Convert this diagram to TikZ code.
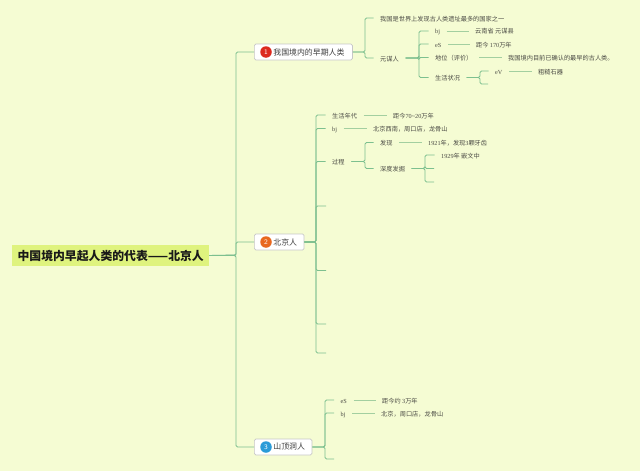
\documentclass[tikz,border=0pt]{standalone}
\usepackage{fontspec}
\setmainfont{Liberation Serif}
\newfontfamily\cjk{Noto Sans CJK SC}
\definecolor{bgc}{HTML}{F5FCD3}
\definecolor{rootc}{HTML}{DFF37E}
\definecolor{lnA}{HTML}{55A57C}
\definecolor{lnB}{HTML}{7DC08F}
\definecolor{lnC}{HTML}{A3CFA0}
\definecolor{txt}{HTML}{4A4A44}
\definecolor{redb}{HTML}{DC2A1E}
\definecolor{orab}{HTML}{E8681F}
\definecolor{blub}{HTML}{2A9BD8}
\tikzset{
  x=1pt,y=-1pt,
  tx/.style={anchor=west,inner xsep=6.5pt,inner ysep=0pt,text=txt,text height=6pt,text depth=0pt,font=\fontsize{6.2pt}{7pt}\selectfont\cjk},
  lat/.style={anchor=west,inner xsep=6.5pt,inner ysep=0pt,text=txt,text height=6pt,text depth=0pt,font=\fontsize{6.2pt}{7pt}\selectfont},
  topic/.style={draw=black!22,fill=white,rounded corners=1.5pt,line width=.7pt,minimum height=16pt,inner ysep=0pt,inner xsep=0pt,anchor=west,text=black!75,font=\fontsize{7.9pt}{9pt}\selectfont\cjk},
  badge/.style={circle,inner sep=0pt,minimum size=11.5pt,text=white,font=\fontsize{7pt}{8pt}\selectfont\sffamily},
  link/.style={lnB,line width=.8pt,rounded corners=1.5pt},
  thin link/.style={lnC,line width=.8pt},
}
\newcommand{\lnk}[3]{\draw[link] (#1.east) -- (#1.east -| #2) |- (#3.west);}
\newcommand{\tie}[2]{\draw[thin link] (#1.east) -- (#2.west);}
\begin{document}
\begin{tikzpicture}
\useasboundingbox (0,0) rectangle (640,471);
\fill[bgc] (0,0) rectangle (640,471);
% trunks
\coordinate (t0) at (236,255);
\coordinate (t1) at (365,52);
\coordinate (t11) at (419,57);
\coordinate (t114) at (480,77);
\coordinate (t2) at (316,242);
\coordinate (t23) at (365,161);
\coordinate (t232) at (425,168);
\coordinate (t3) at (325,446);
% root and main topics
\node[fill=rootc,minimum width=197pt,minimum height=21pt,inner sep=0pt,anchor=west,text height=11pt,text depth=2pt,font=\fontsize{11.85pt}{13pt}\selectfont\cjk\bfseries,text=black!90] (root) at (12,255.5) {中国境内早起人类的代表——北京人};
\node[topic,minimum width=98pt] (n1) at (254,52) {\hspace{19pt}我国境内的早期人类\hspace{8pt}\mbox{}};
\node[topic,minimum width=49pt] (n2) at (254,242) {\hspace{19pt}北京人\hspace{7pt}\mbox{}};
\node[topic,minimum width=57pt] (n3) at (254,447) {\hspace{19pt}山顶洞人\hspace{7pt}\mbox{}};
\node[badge,fill=redb] (b1) at (266,52) {1};
\node[badge,fill=orab] (b2) at (266,242) {2};
\node[badge,fill=blub] (b3) at (266,447) {3};
\draw[lnA,line width=.9pt] (root.east) -- (t0);
\lnk{root}{t0}{n1}
\lnk{root}{t0}{n2}
\lnk{root}{t0}{n3}
% branch 1
\node[tx] (a1) at (373.5,18) {我国是世界上发现古人类遗址最多的国家之一};
\node[tx] (a2) at (373.5,58) {元谋人};
\node[lat] (a21) at (428.5,31) {bj};
\node[tx] (a21t) at (468.5,31) {云南省 元谋县};
\node[lat] (a22) at (428.5,44) {eS};
\node[lat] (a22t) at (469.5,44) {{\cjk 距今 }170{\cjk 万年}};
\node[tx] (a23) at (428.5,57.5) {地位（评价）};
\node[tx] (a23t) at (501.5,57.5) {我国境内目前已确认的最早的古人类。};
\node[tx] (a24) at (428.5,77.5) {生活状况};
\node[lat] (a241) at (488.5,71) {eV};
\node[tx] (a241t) at (531.5,71) {粗糙石器};
\coordinate (a242) at (488,84);
\lnk{n1}{t1}{a1}
\lnk{n1}{t1}{a2}
\lnk{a2}{t11}{a21}
\lnk{a2}{t11}{a22}
\lnk{a2}{t11}{a23}
\lnk{a2}{t11}{a24}
\tie{a21}{a21t}
\tie{a22}{a22t}
\tie{a23}{a23t}
\lnk{a24}{t114}{a241}
\lnk{a24}{t114}{a242}
\tie{a241}{a241t}
% branch 2
\node[tx] (c1) at (325.5,115) {生活年代};
\node[lat] (c1t) at (386.5,115) {{\cjk 距今}70\textasciitilde20{\cjk 万年}};
\node[lat] (c2) at (325.5,128.5) {bj};
\node[tx] (c2t) at (366.5,128.5) {北京西南，周口店，龙骨山};
\node[tx] (c3) at (325.5,161.5) {过程};
\node[tx] (c31) at (373.5,142.5) {发现};
\node[lat] (c31t) at (421.5,142.5) {1921{\cjk 年，发现}3{\cjk 颗牙齿}};
\node[tx] (c32) at (373.5,168.5) {深度发掘};
\node[lat] (c321) at (434.5,155) {1929{\cjk 年 嵌文中}};
\coordinate (c322) at (434,168.5);
\coordinate (c323) at (434,182);
\coordinate (c4) at (326,206);
\coordinate (c5) at (326,270.5);
\coordinate (c6) at (326,324);
\coordinate (c7) at (326,353);
\lnk{n2}{t2}{c1}
\lnk{n2}{t2}{c2}
\lnk{n2}{t2}{c3}
\lnk{n2}{t2}{c4}
\lnk{n2}{t2}{c5}
\lnk{n2}{t2}{c6}
\lnk{n2}{t2}{c7}
\tie{c1}{c1t}
\tie{c2}{c2t}
\lnk{c3}{t23}{c31}
\lnk{c3}{t23}{c32}
\tie{c31}{c31t}
\lnk{c32}{t232}{c321}
\lnk{c32}{t232}{c322}
\lnk{c32}{t232}{c323}
% branch 3
\node[lat] (d1) at (334,400) {eS};
\node[lat] (d1t) at (375.5,400) {{\cjk 距今约 }3{\cjk 万年}};
\node[lat] (d2) at (334,413) {bj};
\node[tx] (d2t) at (374.5,413) {北京，周口店，龙骨山};
\coordinate (d3) at (334,459);
\lnk{n3}{t3}{d1}
\lnk{n3}{t3}{d2}
\lnk{n3}{t3}{d3}
\tie{d1}{d1t}
\tie{d2}{d2t}
\end{tikzpicture}
\end{document}
